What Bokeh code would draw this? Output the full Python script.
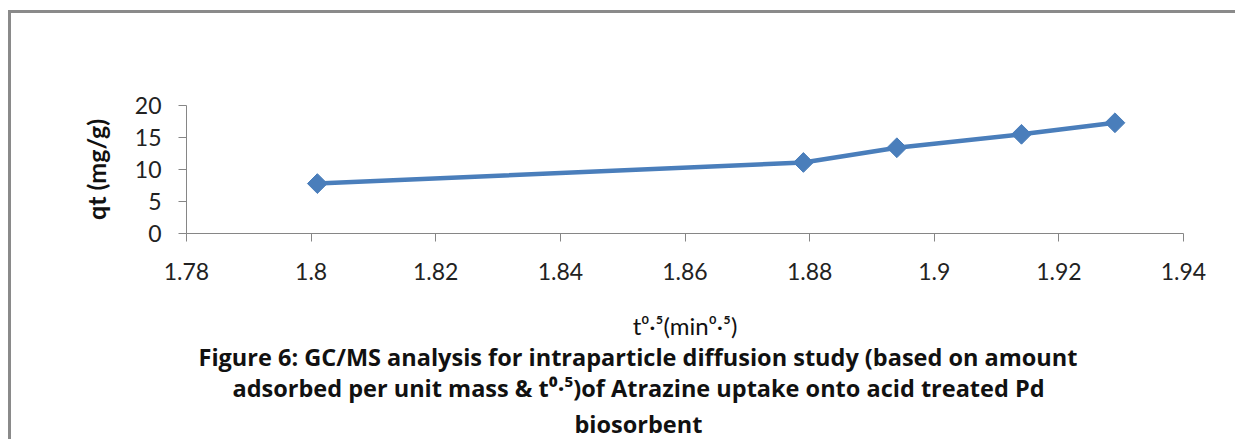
from bokeh.plotting import figure
from bokeh.models import Range1d, FixedTicker, Title
from bokeh.embed import file_html
from bokeh.resources import INLINE
import numpy as np

# ---- data ----
t_sqrt = [1.801, 1.879, 1.894, 1.914, 1.929]
qt = [7.8, 11.1, 13.4, 15.5, 17.3]
x_ticks = [1.78, 1.80, 1.82, 1.84, 1.86, 1.88, 1.90, 1.92, 1.94]
x_tick_labels = ["1.78", "1.8", "1.82", "1.84", "1.86", "1.88", "1.9", "1.92", "1.94"]
y_ticks = [0, 5, 10, 15, 20]
x_label = "t\u2070\u00b7\u2075(min\u2070\u00b7\u2075)"
y_label = "qt (mg/g)"
caption_lines = [
    "Figure 6: GC/MS analysis for intraparticle diffusion study (based on amount",
    "adsorbed per unit mass & t\u2070\u00b7\u2075)of Atrazine uptake onto acid treated Pd",
    "biosorbent",
]

# ---- layout (page pixels) ----
OX, OY = 11, 13            # figure origin on the page (margin + border)
W, H = 1239 - OX - 1, 443 - OY - 1
FL, FR, FT, FB = 186 - OX, 1183 - OX, 105 - OY, 233 - OY
X0, X1, Y0, Y1 = 1.78, 1.94, 0, 20
FONT = "Lato"
CAP_FONT = "Open Sans"
CAP_SIZE = "23.5px"
CAP_CENTER = 638
cap_widths = [879, 811, 126]        # estimated rendered widths of the caption lines
cap_standoffs = [-8, 2, 2]
BLUE = "#4A7EBB"
GREY = "#868686"

p = figure(width=W, height=H, output_backend="svg", toolbar_location=None,
           x_range=Range1d(X0, X1), y_range=Range1d(Y0, Y1),
           min_border_left=FL, min_border_right=W - FR,
           min_border_top=FT, min_border_bottom=H - FB,
           margin=(10, 0, 0, 8),
           styles={"border-top": "3px solid #8a8a8a", "border-left": "3px solid #8a8a8a",
                   "border-right": "0", "border-bottom": "0"})
p.outline_line_color = None
p.grid.visible = False
p.background_fill_color = "white"
p.border_fill_color = "white"

p.line(t_sqrt, qt, line_color=BLUE, line_width=4.5)
p.scatter(t_sqrt, qt, marker="square", angle=np.pi / 4, size=14,
          fill_color=BLUE, line_color=BLUE)

for ax in (p.xaxis[0], p.yaxis[0]):
    ax.axis_line_color = GREY
    ax.major_tick_line_color = GREY
    ax.minor_tick_line_color = None
    ax.major_tick_in = 0
    ax.major_tick_out = 8
    ax.major_label_text_font = FONT
    ax.major_label_text_font_size = "23px"
    ax.major_label_text_color = "#222222"

p.xaxis.ticker = FixedTicker(ticks=x_ticks)
p.xaxis.major_label_overrides = {t: s for t, s in zip(x_ticks, x_tick_labels)}
p.xaxis.major_label_standoff = 21
p.xaxis.axis_label = x_label
p.xaxis.axis_label_text_font = FONT
p.xaxis.axis_label_text_font_style = "normal"
p.xaxis.axis_label_text_font_size = "24px"
p.xaxis.axis_label_text_color = "#111111"
p.xaxis.axis_label_standoff = 28

p.yaxis.ticker = FixedTicker(ticks=y_ticks)
p.yaxis.major_label_standoff = 17
p.yaxis.axis_label = y_label
p.yaxis.axis_label_text_font = FONT
p.yaxis.axis_label_text_font_style = "bold"
p.yaxis.axis_label_text_font_size = "25px"
p.yaxis.axis_label_text_color = "#111111"
p.yaxis.axis_label_standoff = 21

for line, wid, so in zip(caption_lines, cap_widths, cap_standoffs):
    start = CAP_CENTER - wid / 2
    p.add_layout(Title(text=line, align="left", offset=round(start - 187),
                       text_font=CAP_FONT, text_font_size=CAP_SIZE, text_font_style="bold",
                       text_color="#111111", standoff=so), "below")

open("out.html", "w").write(file_html(p, INLINE))
